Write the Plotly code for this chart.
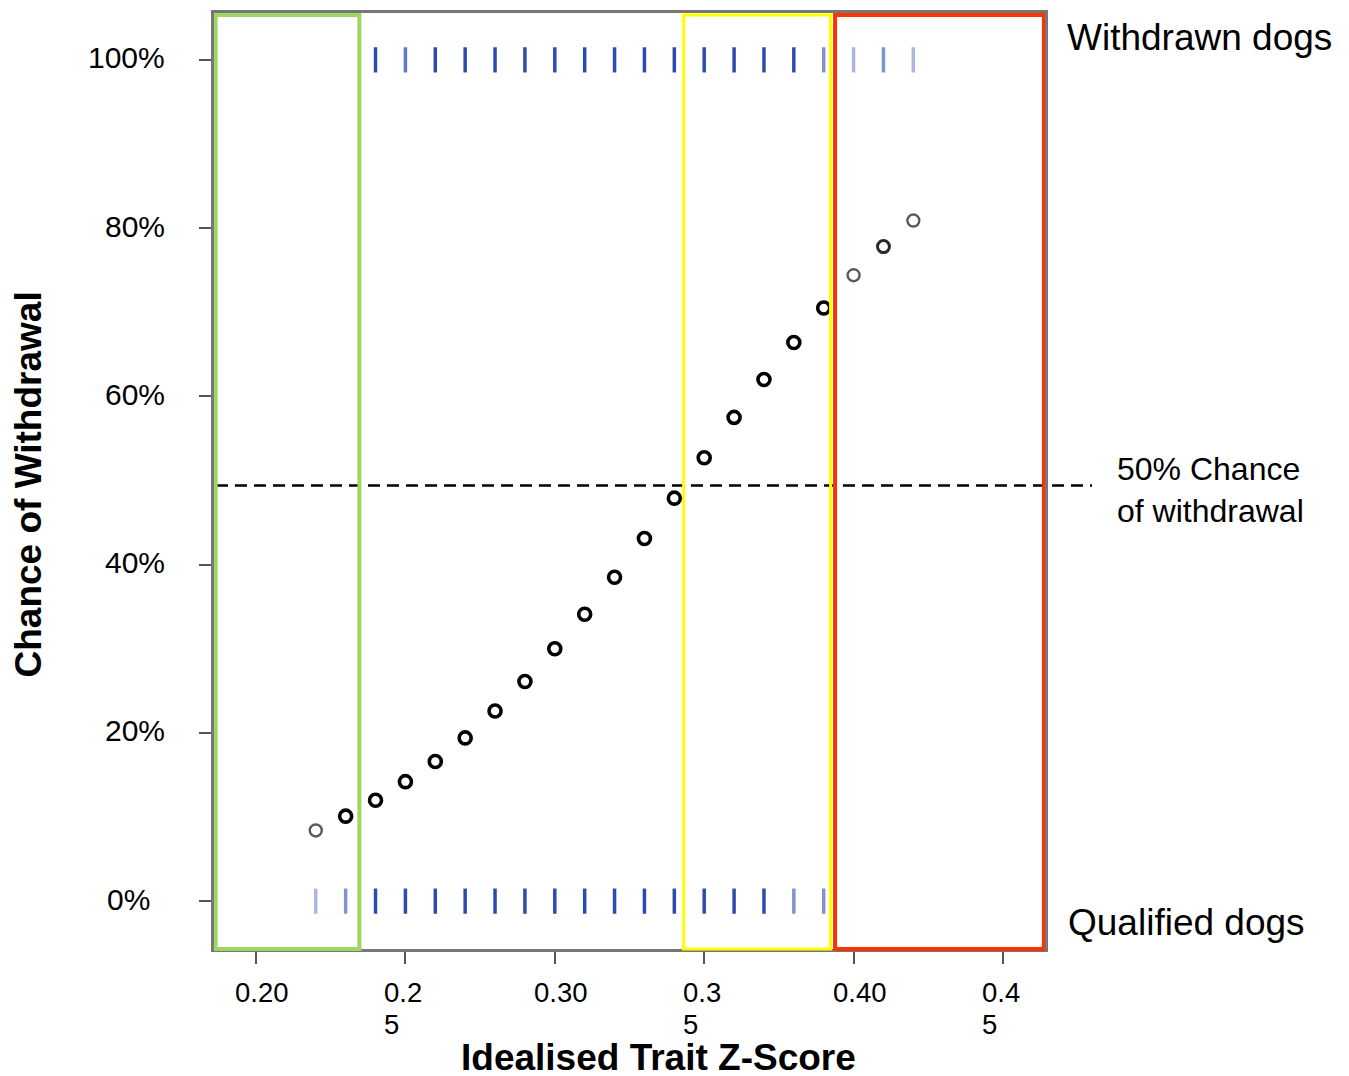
import plotly.graph_objects as go

# ---------------- data ----------------
z_scores = [0.22, 0.23, 0.24, 0.25, 0.26, 0.27, 0.28, 0.29, 0.30, 0.31, 0.32,
            0.33, 0.34, 0.35, 0.36, 0.37, 0.38, 0.39, 0.40, 0.41, 0.42]
chance_pct = [8.4, 10.1, 12.0, 14.2, 16.6, 19.4, 22.6, 26.1, 30.0, 34.1, 38.5,
              43.1, 47.9, 52.7, 57.5, 62.0, 66.4, 70.5, 74.4, 77.8, 80.9]
point_weight = [0.5, 1, 1, 1, 1, 1, 1, 1, 1, 1, 1,
                1, 1, 1, 1, 1, 1, 1, 0.5, 0.8, 0.5]

withdrawn_z = [0.24, 0.25, 0.26, 0.27, 0.28, 0.29, 0.30, 0.31, 0.32, 0.33,
               0.34, 0.35, 0.36, 0.37, 0.38, 0.39, 0.40, 0.41, 0.42]
withdrawn_weight = [1, 0.75, 1, 1, 1, 1, 1, 1, 1, 1,
                    1, 1, 1, 1, 1, 0.6, 0.4, 0.6, 0.4]
qualified_z = [0.22, 0.23, 0.24, 0.25, 0.26, 0.27, 0.28, 0.29, 0.30, 0.31,
               0.32, 0.33, 0.34, 0.35, 0.36, 0.37, 0.38, 0.39]
qualified_weight = [0.4, 0.6, 1, 1, 1, 1, 1, 1, 1, 1,
                    1, 1, 1, 1, 1, 1, 0.6, 0.6]

threshold_pct = 49.4
regions = [  # (x0, x1, colour)
    (0.1865, 0.2346, "#9fd562"),
    (0.3431, 0.3923, "#ffff00"),
    (0.3938, 0.4637, "#ff3300"),
]

x_tick_vals = [0.20, 0.25, 0.30, 0.35, 0.40, 0.45]
x_tick_line1 = ["0.20", "0.2", "0.30", "0.3", "0.40", "0.4"]
x_tick_line2 = ["", "5", "", "5", "", "5"]
y_tick_vals = [0, 20, 40, 60, 80, 100]
y_tick_text = ["0%", "20%", "40%", "60%", "80%", "100%"]

# ---------------- layout geometry ----------------
OFF = 8                      # page body margin
W, H = 1349 - OFF, 1076 - OFF
PL, PR, PT, PB = 214, 1045, 10, 949   # plot area in page pixels
PW, PH = PR - PL, PB - PT
L, T = PL - OFF, PT - OFF
R, B = W - L - PW, H - T - PH
X_RANGE = [0.18594, 0.46406]
Y_RANGE = [-5.69, 105.57]
FONT = "Liberation Sans, Arial, sans-serif"


def px_x(px):
    return (px - PL) / PW


def px_y(py):
    return (PB - py) / PH


fig = go.Figure()


def rug_colors(weights):
    return [f"rgba(45,75,175,{w})" for w in weights]


fig.add_trace(go.Scatter(
    x=withdrawn_z, y=[100] * len(withdrawn_z), mode="markers",
    marker=dict(symbol="line-ns-open", size=18, color=rug_colors(withdrawn_weight),
                line=dict(width=3.5)),
    hoverinfo="skip", showlegend=False))
fig.add_trace(go.Scatter(
    x=qualified_z, y=[0] * len(qualified_z), mode="markers",
    marker=dict(symbol="line-ns-open", size=18, color=rug_colors(qualified_weight),
                line=dict(width=3.5)),
    hoverinfo="skip", showlegend=False))

pt_colors = ["#000000" if w >= 1 else ("#2a2a2a" if w >= 0.7 else "#5a5a5a") for w in point_weight]
pt_widths = [3.6 if w >= 1 else (3 if w >= 0.7 else 2.4) for w in point_weight]
fig.add_trace(go.Scatter(
    x=z_scores, y=chance_pct, mode="markers",
    marker=dict(symbol="circle-open", size=12, color=pt_colors,
                line=dict(width=pt_widths)),
    showlegend=False))

fig.add_shape(type="line", xref="paper", yref="y", x0=px_x(216), x1=px_x(1092),
              y0=threshold_pct, y1=threshold_pct,
              line=dict(color="black", width=2.5, dash="12px,7px"), layer="above")

for x0, x1, col in regions:
    fig.add_shape(type="rect", xref="x", yref="paper", x0=x0, x1=x1,
                  y0=px_y(949), y1=px_y(12),
                  line=dict(color=col, width=4 if col != "#ffff00" else 3),
                  fillcolor="rgba(0,0,0,0)", layer="above")

annotations = []
for v, l1, l2 in zip(x_tick_vals, x_tick_line1, x_tick_line2):
    if l2:
        for txt, yy in ((l1, 992), (l2, 1024)):
            annotations.append(dict(x=v, y=px_y(yy), xref="x", yref="paper", text=txt,
                                    showarrow=False, xanchor="left", yanchor="middle",
                                    height=28, xshift=-23,
                                    font=dict(size=27.5, family=FONT, color="black")))
    else:
        annotations.append(dict(x=v, y=px_y(992), xref="x", yref="paper", text=l1,
                                showarrow=False, xanchor="center", yanchor="middle",
                                height=28, xshift=6,
                                font=dict(size=27.5, family=FONT, color="black")))
for v, t in zip(y_tick_vals, y_tick_text):
    annotations.append(dict(x=0, y=v, xref="paper", yref="y", text=t, showarrow=False,
                            xanchor="right", yanchor="middle",
                            xshift=-62 if v == 0 else -47, yshift=2,
                            font=dict(size=30, family=FONT, color="black")))

annotations += [
    dict(x=px_x(1065), y=px_y(35), xref="paper", yref="paper", text="Withdrawn dogs",
         showarrow=False, xanchor="left", yanchor="middle",
         font=dict(size=37, family=FONT, color="black")),
    dict(x=px_x(1066), y=px_y(922), xref="paper", yref="paper", text="Qualified dogs",
         showarrow=False, xanchor="left", yanchor="middle",
         font=dict(size=37, family=FONT, color="black")),
    dict(x=px_x(1115), y=px_y(489), xref="paper", yref="paper",
         text="50% Chance<br>of withdrawal", align="left",
         showarrow=False, xanchor="left", yanchor="middle",
         font=dict(size=32, family=FONT, color="black")),
    dict(x=px_x(658), y=px_y(1057), xref="paper", yref="paper",
         text="<b>Idealised Trait Z-Score</b>", height=36,
         showarrow=False, xanchor="center", yanchor="middle",
         font=dict(size=37, family=FONT, color="black")),
    dict(x=px_x(28), y=px_y(483), xref="paper", yref="paper",
         text="<b>Chance of Withdrawal</b>", textangle=-90,
         showarrow=False, xanchor="center", yanchor="middle",
         font=dict(size=37, family=FONT, color="black")),
]

fig.update_layout(
    width=W, height=H,
    margin=dict(l=L, r=R, t=T, b=B, pad=0),
    paper_bgcolor="white", plot_bgcolor="white",
    font=dict(family=FONT, color="black"),
    annotations=annotations,
    xaxis=dict(range=X_RANGE, tickvals=x_tick_vals, showticklabels=False,
               ticks="outside", ticklen=12, tickwidth=2, tickcolor="#555555",
               showgrid=False, zeroline=False, showline=True, mirror=True,
               linecolor="#777777", linewidth=3),
    yaxis=dict(range=Y_RANGE, tickvals=y_tick_vals, showticklabels=False,
               ticks="outside", ticklen=12, tickwidth=2, tickcolor="#555555",
               showgrid=False, zeroline=False, showline=True, mirror=True,
               linecolor="#777777", linewidth=3),
)

fig.write_html("out.html")
